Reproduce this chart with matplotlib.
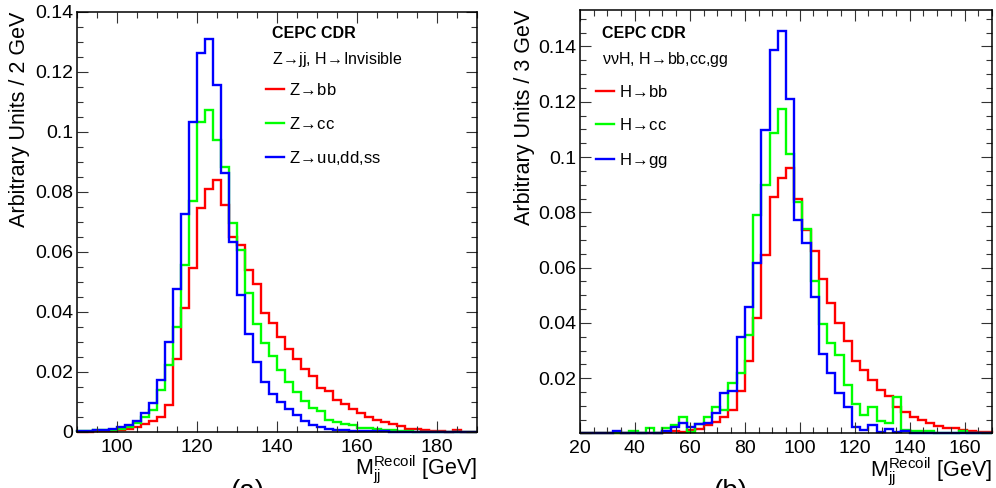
import matplotlib
matplotlib.use('Agg')
import matplotlib.pyplot as plt
from matplotlib.lines import Line2D
from matplotlib.ticker import MultipleLocator, FuncFormatter
import numpy as np

plt.rcParams['font.family'] = ['Liberation Sans', 'DejaVu Sans']
plt.rcParams['mathtext.default'] = 'regular'

# (a) Z->jj, H->invisible : 2 GeV bins from 90 to 190
a_lo, a_hi = 90, 190
zbb = [0.0001, 0.0001, 0.0002, 0.0003, 0.0003, 0.0007, 0.0010, 0.0017, 0.0025, 0.0035,
       0.0049, 0.0090, 0.0242, 0.0414, 0.0546, 0.0746, 0.0809, 0.0840, 0.0757, 0.0649,
       0.0623, 0.0540, 0.0493, 0.0396, 0.0364, 0.0316, 0.0277, 0.0242, 0.0210, 0.0187,
       0.0146, 0.0138, 0.0107, 0.0092, 0.0076, 0.0062, 0.0051, 0.0040, 0.0032, 0.0026,
       0.0020, 0.0009, 0.0011, 0.0007, 0.0003, 0.0003, 0.0001, 0.0007, 0.0001, 0.0]
zcc = [0.0002, 0.0003, 0.0005, 0.0005, 0.0006, 0.0010, 0.0017, 0.0030, 0.0051, 0.0073,
       0.0140, 0.0223, 0.0351, 0.0557, 0.0771, 0.1034, 0.1073, 0.0973, 0.0884, 0.0698,
       0.0607, 0.0462, 0.0360, 0.0298, 0.0253, 0.0207, 0.0167, 0.0132, 0.0103, 0.0079,
       0.0071, 0.0040, 0.0034, 0.0027, 0.0022, 0.0013, 0.0014, 0.0009, 0.0007, 0.0007,
       0.0004, 0.0002, 0.0001, 0.0001, 0.0001, 0.0001, 0.0, 0.0, 0.0, 0.0]
zuds = [0.0003, 0.0004, 0.0007, 0.0007, 0.0009, 0.0018, 0.0023, 0.0038, 0.0062, 0.0098,
        0.0173, 0.0301, 0.0476, 0.0727, 0.1034, 0.1264, 0.1309, 0.1157, 0.0864, 0.0632,
        0.0457, 0.0327, 0.0234, 0.0168, 0.0126, 0.0101, 0.0076, 0.0057, 0.0038, 0.0023,
        0.0016, 0.0011, 0.0008, 0.0007, 0.0004, 0.0003, 0.0003, 0.0002, 0.0002, 0.0001,
        0.0001, 0.0001, 0.0001, 0.0001, 0.0, 0.0, 0.0, 0.0, 0.0, 0.0]

# (b) nunuH, H->bb,cc,gg : 3 GeV bins from 20 to 170
b_lo, b_hi = 20, 170
hbb = [0.0, 0.0, 0.0, 0.0, 0.0, 0.0, 0.0, 0.0, 0.0001, 0.0002,
       0.0004, 0.0009, 0.0007, 0.0012, 0.0018, 0.0031, 0.0040, 0.0060, 0.0085, 0.0154,
       0.0264, 0.0417, 0.0646, 0.0856, 0.0925, 0.0961, 0.0847, 0.0737, 0.0661, 0.0558,
       0.0473, 0.0399, 0.0336, 0.0263, 0.0230, 0.0194, 0.0157, 0.0136, 0.0097, 0.0077,
       0.0059, 0.0049, 0.0037, 0.0027, 0.0021, 0.0019, 0.0013, 0.0010, 0.0006, 0.0004]
hcc = [0.0, 0.0, 0.0, 0.0, 0.0003, 0.0, 0.0009, 0.0, 0.0021, 0.0,
       0.0021, 0.0030, 0.0061, 0.0004, 0.0035, 0.0061, 0.0097, 0.0085, 0.0184, 0.0218,
       0.0356, 0.0790, 0.0899, 0.1086, 0.1173, 0.1011, 0.0838, 0.0739, 0.0550, 0.0396,
       0.0328, 0.0284, 0.0175, 0.0107, 0.0068, 0.0095, 0.0046, 0.0039, 0.0133, 0.0013,
       0.0010, 0.0010, 0.0010, 0.0, 0.0, 0.0003, 0.0010, 0.0003, 0.0, 0.0]
hgg = [0.0, 0.0, 0.0, 0.0, 0.0008, 0.0, 0.0, 0.0, 0.0, 0.0002,
       0.0008, 0.0025, 0.0039, 0.0025, 0.0033, 0.0037, 0.0075, 0.0148, 0.0154, 0.0348,
       0.0458, 0.0615, 0.1098, 0.1387, 0.1457, 0.1211, 0.0772, 0.0688, 0.0493, 0.0288,
       0.0218, 0.0148, 0.0097, 0.0025, 0.0013, 0.0031, 0.0006, 0.0015, 0.0006, 0.0010,
       0.0002, 0.0002, 0.0001, 0.0, 0.0, 0.0, 0.0, 0.0, 0.0, 0.0]

colors = ['#ff0000', '#00ff00', '#0000ff']
ARR = r'$\!\rightarrow\!$'


def style_axes(ax, xmaj, xmin, ymax, show_zero):
    ax.xaxis.set_major_locator(MultipleLocator(xmaj))
    ax.xaxis.set_minor_locator(MultipleLocator(xmin))
    ax.yaxis.set_major_locator(MultipleLocator(0.02))
    ax.yaxis.set_minor_locator(MultipleLocator(0.005))
    ax.set_ylim(0, ymax)

    def fmt(v, pos):
        if abs(v) < 1e-9:
            return '0' if show_zero else ''
        return f'{v:g}'
    ax.yaxis.set_major_formatter(FuncFormatter(fmt))
    ax.tick_params(which='both', direction='in', top=True, right=True,
                   labelsize=14, width=0.8, color='#333333')
    ax.tick_params(which='major', length=8)
    ax.tick_params(axis='y', which='major', pad=2.5)
    ax.tick_params(axis='x', which='major', pad=5)
    ax.tick_params(which='minor', length=4)
    for s in ax.spines.values():
        s.set_linewidth(1.1)


def draw(ax, lo, hi, series, labels, ylabel, head, sub, leg_xy, txt_x, txt_y):
    edges = np.linspace(lo, hi, len(series[0]) + 1)
    for vals, c in zip(series, colors):
        ax.stairs(vals, edges, color=c, linewidth=1.7, baseline=0, clip_on=False)
    ax.set_xlim(lo, hi)
    ax.set_xlabel(r'$M_{jj}^{Recoil}$ [GeV]', fontsize=15.5, ha='right', va='top')
    ax.xaxis.set_label_coords(1.0, -0.052)
    ax.set_ylabel(ylabel, fontsize=15.5, ha='right', va='bottom')
    ax.text(txt_x, txt_y, head, transform=ax.transAxes, fontsize=11.5,
            fontweight='bold', va='center')
    ax.text(txt_x, txt_y - 0.062, sub, transform=ax.transAxes, fontsize=11.5,
            va='center')
    handles = [Line2D([], [], color=c, linewidth=1.7) for c in colors]
    ax.legend(handles, labels, loc='upper left', bbox_to_anchor=leg_xy,
              frameon=False, fontsize=12, handlelength=1.1, handletextpad=0.3,
              labelspacing=1.05, borderpad=0, borderaxespad=0)


fig = plt.figure(figsize=(9.96, 4.88), dpi=100)
ax1 = fig.add_axes([0.0773, 0.1148, 0.4016, 0.8607])
ax2 = fig.add_axes([0.5823, 0.1117, 0.4137, 0.8678])

draw(ax1, a_lo, a_hi, [zbb, zcc, zuds],
     ['Z' + ARR + 'bb', 'Z' + ARR + 'cc', 'Z' + ARR + 'uu,dd,ss'],
     'Arbitrary Units / 2 GeV', 'CEPC CDR', 'Z' + ARR + 'jj, H' + ARR + 'Invisible',
     (0.4725, 0.833), 0.487, 0.949)
style_axes(ax1, 20, 5, 0.14, True)
ax1.yaxis.set_label_coords(-0.118, 1.0)

draw(ax2, b_lo, b_hi, [hbb, hcc, hgg],
     ['H' + ARR + 'bb', 'H' + ARR + 'cc', 'H' + ARR + 'gg'],
     'Arbitrary Units / 3 GeV', 'CEPC CDR', 'ννH, H' + ARR + 'bb,cc,gg',
     (0.039, 0.826), 0.053, 0.945)
style_axes(ax2, 20, 5, 0.1532, False)
ax2.yaxis.set_label_coords(-0.11, 1.0)

fig.text(0.248, 0.018, '(a)', fontsize=20, ha='center', va='top')
fig.text(0.733, 0.018, '(b)', fontsize=20, ha='center', va='top')

fig.savefig('out.png', dpi=100)
